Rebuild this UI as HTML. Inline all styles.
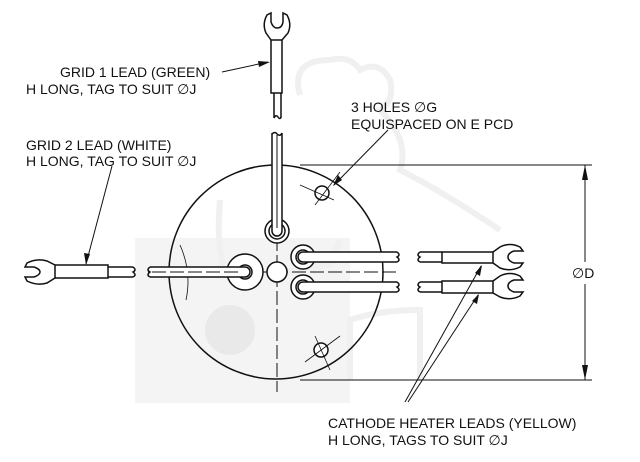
<!DOCTYPE html>
<html><head><meta charset="utf-8"><style>
html,body{margin:0;padding:0;background:#fff;}
svg{display:block}
text{font-family:"Liberation Sans","DejaVu Sans",sans-serif;font-size:14px;fill:#111}
</style></head><body>
<svg width="640" height="462" viewBox="0 0 640 462" xmlns="http://www.w3.org/2000/svg">
<rect x="135" y="238" width="215" height="165" fill="#f4f4f4"/>
<circle cx="230" cy="330" r="25" fill="#e9e9e9"/>
<g fill="none" stroke="#f0f0f0" stroke-width="6">
<path d="M300 95 Q290 60 330 60 Q350 55 360 70 Q380 60 390 80 Q395 100 380 110 Q410 140 400 170 Q440 190 500 230"/>
<path d="M220 200 Q215 260 230 280 L330 265 L340 240"/>
<path d="M350 380 L350 320 Q380 310 420 310 L420 380"/>
</g>
<g stroke="#111" fill="none" stroke-width="1.5">
<circle cx="276" cy="272" r="107" fill="none"/>
<line x1="277" y1="165" x2="277" y2="392" stroke-dasharray="14,4" stroke-width="1"/>
<line x1="148" y1="272" x2="400" y2="272" stroke-dasharray="14,4" stroke-width="1"/>
<circle cx="322" cy="193" r="7" fill="#fff"/>
<circle cx="321" cy="350" r="7" fill="#fff"/>
<line x1="300" y1="185" x2="334" y2="200" stroke-width="0.8"/>
<line x1="315" y1="205" x2="340" y2="172" stroke-width="0.8"/>
<line x1="305" y1="362" x2="340" y2="336" stroke-width="0.8"/>
<line x1="315" y1="336" x2="330" y2="370" stroke-width="0.8"/>
<path d="M180 245 Q192 272 186 300" stroke-width="0.8"/>
<circle cx="277" cy="272" r="10" fill="#fff"/>
<circle cx="277" cy="231" r="12" fill="#fff"/>
<circle cx="277" cy="231" r="8"/>
<path d="M272 133 L272 231 A5 5 0 0 0 282 231 L282 133" fill="#fff"/>
<line x1="277" y1="135" x2="277" y2="228" stroke-width="1"/>
<path d="M272 134 q3 -3 5 0 q3 3 5 -1" />
<path d="M274 93 L274 118 M281 93 L281 118"/>
<path d="M274 118 q2 -4 4 -1 q2 3 3 0"/>
<rect x="271" y="40" width="11" height="53" fill="#fff"/>
<path d="M271 40 L266 33 Q262 24 267 15 L271 13 L271 22 Q273 28 277 28 Q282 28 283 22 L283 13 L287 15 Q292 24 288 33 L282 40"/>
<circle cx="245" cy="272" r="18" fill="#fff"/>
<circle cx="245" cy="272" r="7"/>
<path d="M150 267 L245 267 A5 5 0 0 1 245 277 L150 277" fill="#fff"/>
<line x1="152" y1="272" x2="242" y2="272" stroke-dasharray="14,4" stroke-width="1"/>
<path d="M150 267 q-4 3 0 5 q-4 3 0 5"/>
<path d="M108 267 L133 267 M108 277 L133 277"/>
<path d="M133 267 q4 3 0 5 q4 3 0 5"/>
<rect x="55" y="265" width="53" height="13" fill="#fff"/>
<path d="M55 265 L47 261 Q37 258 27 263 L25 267 L34 267 Q40 269 40 272 Q40 275 34 277 L25 277 L27 281 Q37 286 47 283 L55 278"/>
<g fill="#fff">
<circle cx="303" cy="257" r="12"/><circle cx="303" cy="257" r="7"/>
<circle cx="303" cy="287" r="12"/><circle cx="303" cy="287" r="7"/>
<path d="M397 252 L303 252 A5 5 0 0 0 303 262 L397 262"/>
<path d="M397 282 L303 282 A5 5 0 0 0 303 292 L397 292"/>
</g>
<path d="M397 252 q4 3 0 5 q4 3 0 5 M397 282 q4 3 0 5 q4 3 0 5"/>
<path d="M420 252 q-4 3 0 5 q-4 3 0 5 M420 282 q-4 3 0 5 q-4 3 0 5"/>
<path d="M420 252 L442 252 M420 262 L442 262 M420 282 L442 282 M420 292 L442 292"/>
<rect x="442" y="252" width="51" height="11" fill="#fff"/>
<rect x="442" y="281" width="51" height="12" fill="#fff"/>
<path d="M493 252 L500 247 Q510 242 520 247 L523 251 L514 251 Q508 253 508 257 Q508 261 514 263 L523 263 L520 267 Q510 272 500 268 L493 263"/>
<path d="M493 281 L500 276 Q510 271 520 276 L523 280 L514 280 Q508 282 508 286 Q508 290 514 292 L523 292 L520 296 Q510 301 500 297 L493 293"/>
<line x1="300" y1="165" x2="592" y2="165" stroke-width="1"/>
<line x1="300" y1="380" x2="592" y2="380" stroke-width="1"/>
<line x1="585" y1="165" x2="585" y2="262" stroke-width="1"/>
<line x1="585" y1="284" x2="585" y2="380" stroke-width="1"/>
<line x1="222" y1="72" x2="268" y2="62" stroke-width="1"/>
<line x1="388" y1="130" x2="334" y2="185" stroke-width="1"/>
<line x1="112" y1="166" x2="86" y2="264" stroke-width="1"/>
<line x1="405" y1="402" x2="481" y2="266" stroke-width="1"/>
<line x1="408" y1="402" x2="478" y2="295" stroke-width="1"/>
</g>
<g fill="#111">
<polygon points="270,62 258,61 259,67"/>
<polygon points="333,186 338,175 342,180"/>
<polygon points="86,265 84,253 90,254"/>
<polygon points="482,265 475,273 480,276"/>
<polygon points="479,294 472,301 477,304"/>
<polygon points="585,165 582,180 588,180"/>
<polygon points="585,380 582,365 588,365"/>
</g>
<text x="60" y="77">GRID 1 LEAD (GREEN)</text>
<text x="26" y="94">H LONG, TAG TO SUIT ∅J</text>
<text x="351" y="112">3 HOLES ∅G</text>
<text x="351" y="129">EQUISPACED ON E PCD</text>
<text x="26" y="150">GRID 2 LEAD (WHITE)</text>
<text x="26" y="166">H LONG, TAG TO SUIT ∅J</text>
<text x="572" y="278">∅D</text>
<text x="328" y="428">CATHODE HEATER LEADS (YELLOW)</text>
<text x="328" y="445">H LONG, TAGS TO SUIT ∅J</text>
</svg>
</body></html>
